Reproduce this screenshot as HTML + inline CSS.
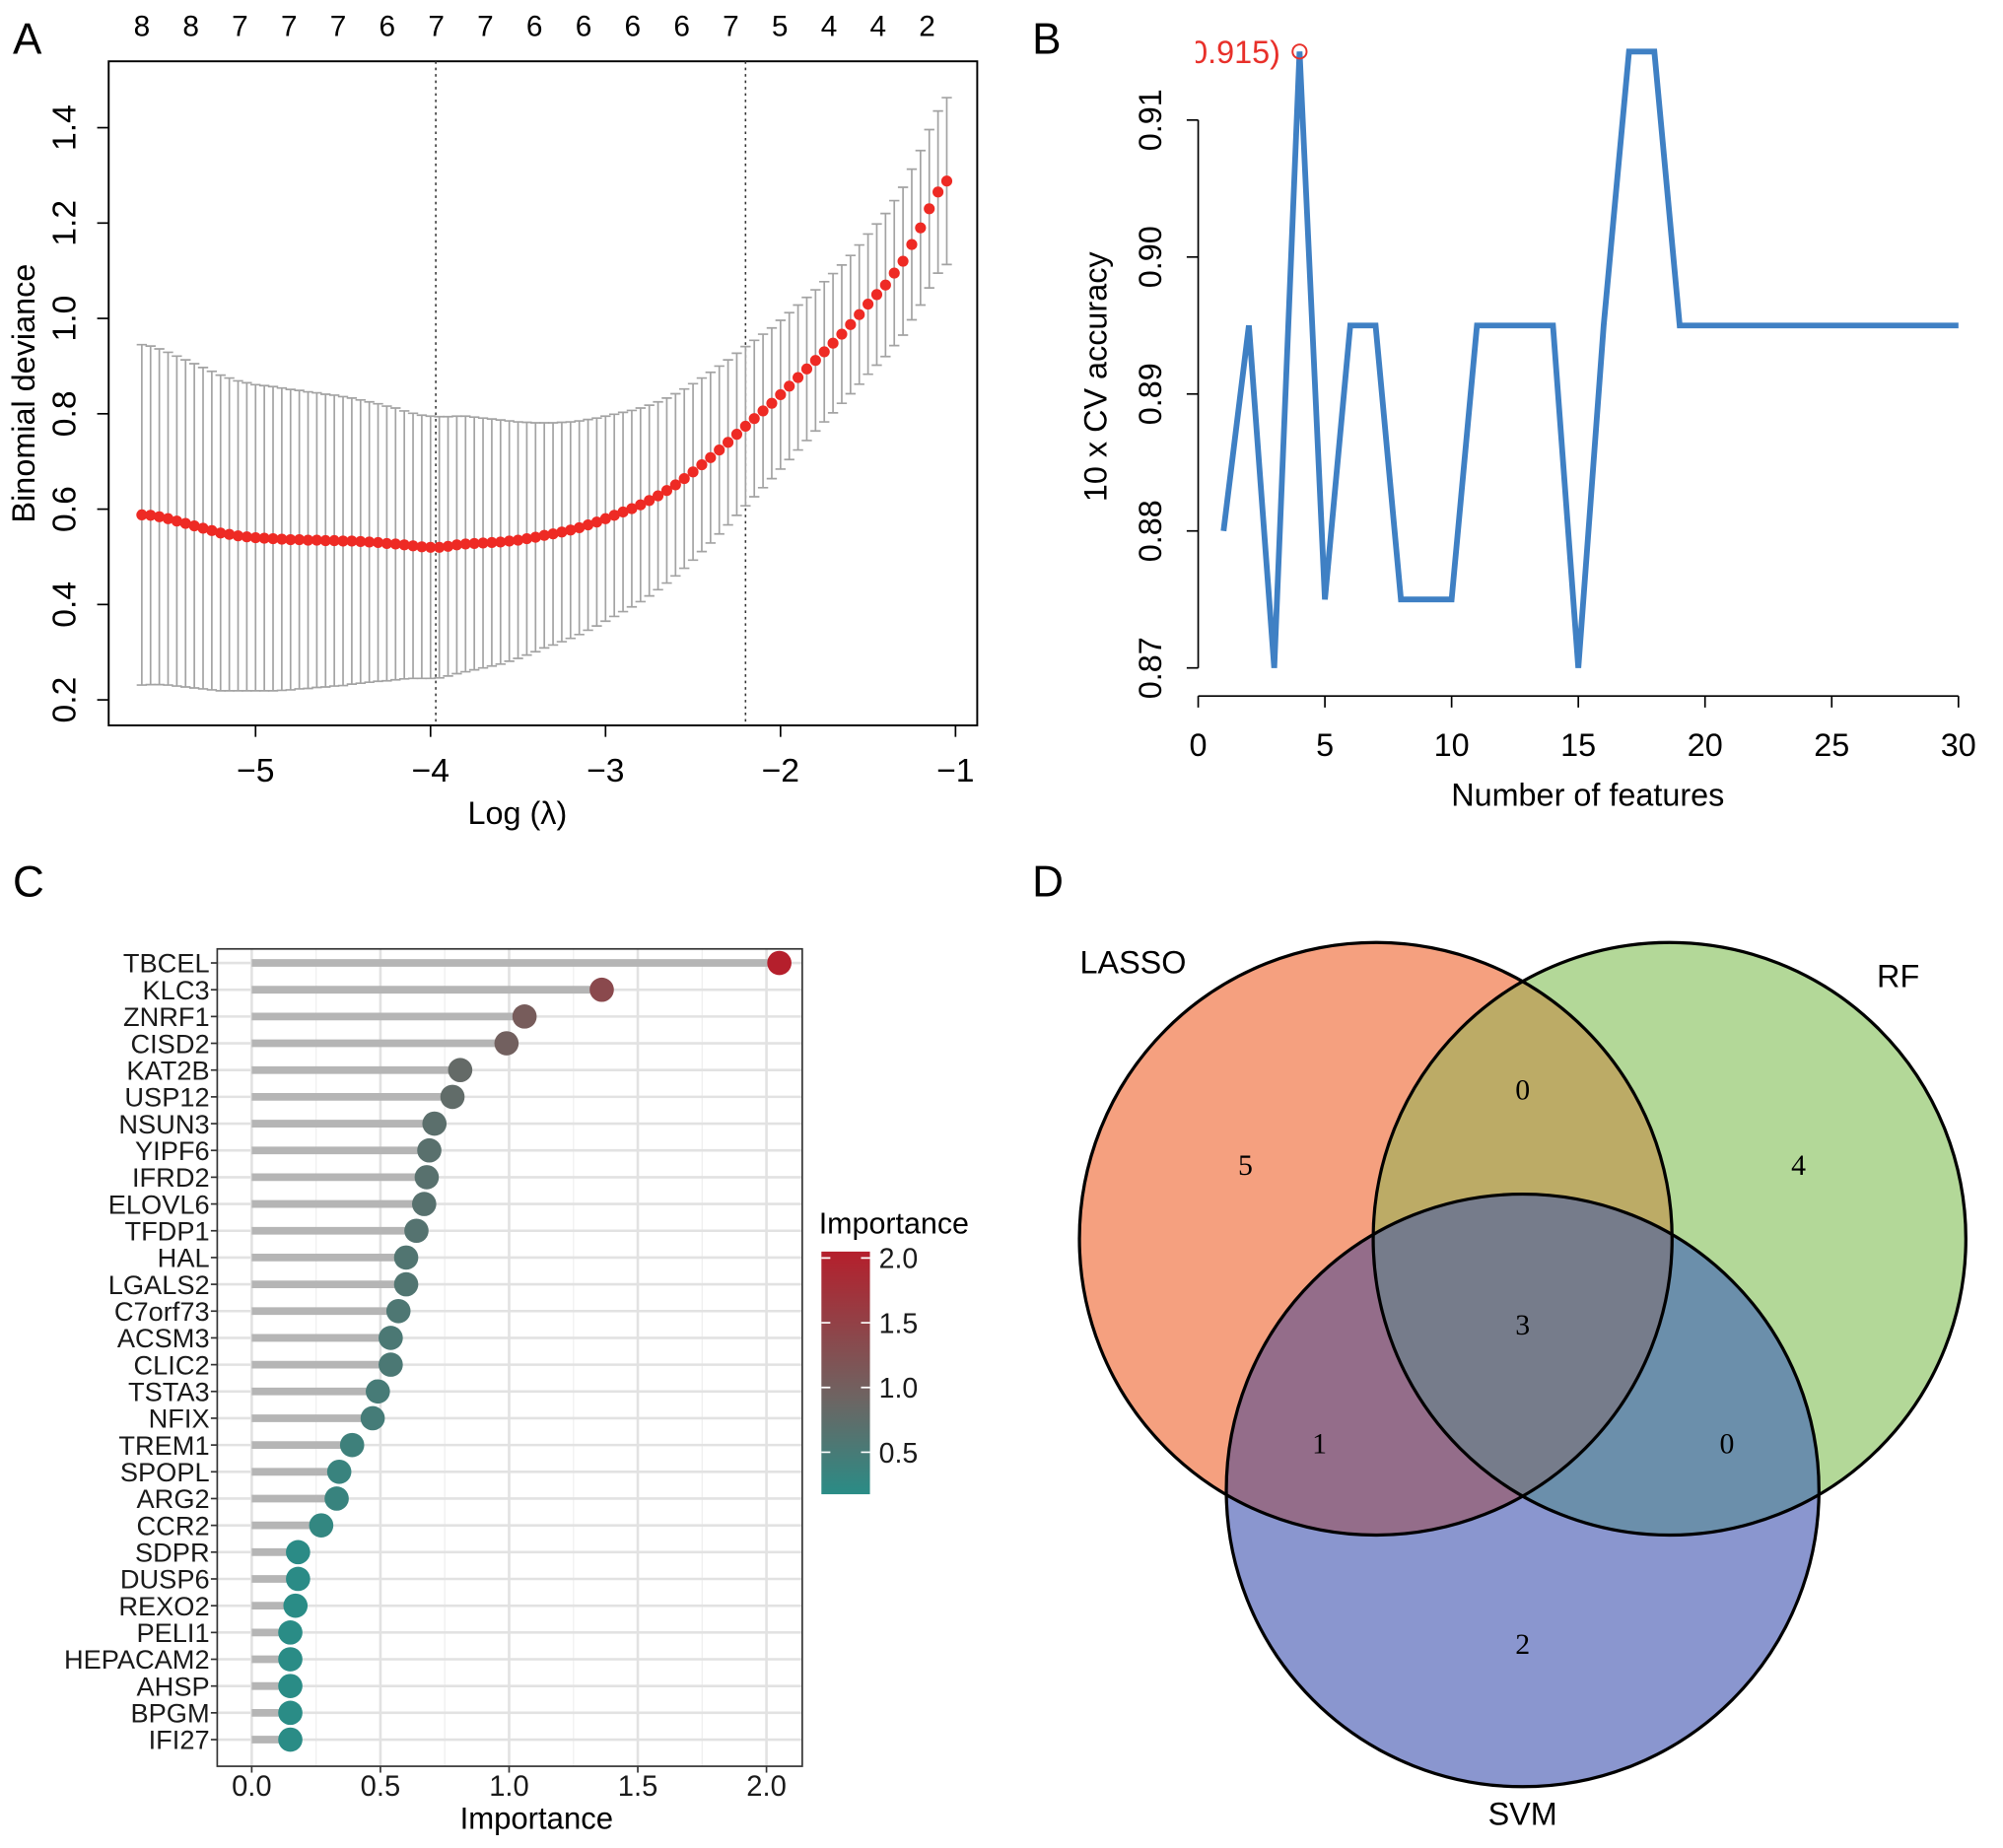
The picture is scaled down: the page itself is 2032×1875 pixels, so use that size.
<!DOCTYPE html>
<html><head><meta charset="utf-8"><title>Feature selection figure</title>
<style>
html,body{margin:0;padding:0;background:#fff;}
svg{display:block;font-family:"Liberation Sans",sans-serif;}
</style></head>
<body>
<svg id="fig" width="2032" height="1875" viewBox="0 0 1568 1447" xmlns="http://www.w3.org/2000/svg">
<defs>
<clipPath id="clipB"><rect x="936" y="20" width="640" height="540"/></clipPath>
<clipPath id="cL"><circle cx="1077" cy="970" r="232"/></clipPath>
<clipPath id="cR"><circle cx="1307" cy="970" r="232"/></clipPath>
<linearGradient id="impGrad" x1="0" y1="1" x2="0" y2="0">
<stop offset="0" stop-color="#2a8c86"/><stop offset="0.4" stop-color="#6e6462"/><stop offset="1" stop-color="#b51f2c"/>
</linearGradient>
</defs>
<g id="panelA"></g>
<g id="panelB"></g>
<g id="panelC"></g>
<g id="panelD"></g>
</svg>
<script>
// ---------- Panel A data ----------
const lassoLogLambdaStart = -5.65;
const lassoLogLambdaStep = 0.05;
const lassoMean = [.588,.587,.584,.580,.575,.570,.565,.560,.555,.550,.547,.544,.542,.540,.539,.538,.537,.536,.536,.535,.535,.534,.534,.533,.533,.532,.531,.530,.528,.527,.525,.523,.521,.520,.520,.522,.525,.527,.528,.529,.530,.531,.533,.535,.538,.541,.545,.548,.552,.556,.561,.567,.573,.580,.587,.594,.601,.609,.618,.628,.639,.651,.664,.678,.693,.708,.724,.740,.757,.774,.790,.806,.822,.840,.858,.876,.894,.912,.930,.948,.967,.987,1.008,1.03,1.05,1.07,1.095,1.12,1.155,1.19,1.23,1.265,1.288];
const lassoSE = [.357,.355,.352,.349,.346,.343,.340,.337,.334,.331,.328,.325,.323,.321,.320,.319,.317,.315,.313,.311,.309,.307,.305,.303,.300,.297,.294,.291,.288,.285,.281,.278,.276,.275,.274,.272,.270,.268,.265,.262,.259,.256,.252,.248,.244,.240,.236,.233,.230,.227,.224,.221,.218,.215,.212,.209,.206,.203,.200,.197,.194,.191,.188,.185,.182,.179,.176,.173,.170,.167,.164,.161,.158,.156,.154,.152,.150,.148,.147,.146,.145,.145,.146,.147,.148,.150,.152,.155,.158,.162,.166,.170,.175];
const lassoXTicks = [-5,-4,-3,-2,-1];
const lassoYTicks = [0.2,0.4,0.6,0.8,1.0,1.2,1.4];
const lassoTopCounts = [8,8,7,7,7,6,7,7,6,6,6,6,7,5,4,4,2];
const lassoTopStep = 0.2805;
const lassoVLines = [-3.97,-2.2];

// ---------- Panel B data ----------
const rfFeatures = [1,2,3,4,5,6,7,8,9,10,11,12,13,14,15,16,17,18,19,20,21,22,23,24,25,26,27,28,29,30];
const rfAccuracy = [.880,.895,.870,.915,.875,.895,.895,.875,.875,.875,.895,.895,.895,.895,.870,.895,.915,.915,.895,.895,.895,.895,.895,.895,.895,.895,.895,.895,.895,.895];
const rfXTicks = [0,5,10,15,20,25,30];
const rfYTicks = [0.87,0.88,0.89,0.90,0.91];
const rfBest = [4, 0.915];

// ---------- Panel C data ----------
const genes = ["TBCEL","KLC3","ZNRF1","CISD2","KAT2B","USP12","NSUN3","YIPF6","IFRD2","ELOVL6","TFDP1","HAL","LGALS2","C7orf73","ACSM3","CLIC2","TSTA3","NFIX","TREM1","SPOPL","ARG2","CCR2","SDPR","DUSP6","REXO2","PELI1","HEPACAM2","AHSP","BPGM","IFI27"];
const importance = [2.05,1.36,1.06,0.99,0.81,0.78,0.71,0.69,0.68,0.67,0.64,0.60,0.60,0.57,0.54,0.54,0.49,0.47,0.39,0.34,0.33,0.27,0.18,0.18,0.17,0.15,0.15,0.15,0.15,0.15];
const impXTicks = [0.0,0.5,1.0,1.5,2.0];
const impLegendTicks = [0.5,1.0,1.5,2.0];

// ---------- Panel D data ----------
const vennCounts = {lassoOnly:5, lassoRf:0, rfOnly:4, all:3, lassoSvm:1, rfSvm:0, svmOnly:2};

const NS = "http://www.w3.org/2000/svg";
function mk(parent, tag, attrs, text){
  const e = document.createElementNS(NS, tag);
  for (const k in attrs) e.setAttribute(k, attrs[k]);
  if (text !== undefined) e.textContent = text;
  parent.appendChild(e);
  return e;
}
function fmt(v,d){return v.toFixed(d);}
const minus = "\u2212";

// ================= Panel A =================
(function(){
  const g = document.getElementById('panelA');
  const L=85,R=765,T=48,B=568;
  const xs = v => 200 + (v + 5) * 137;
  const ys = v => 548 - (v - 0.2) / 0.2 * 74.67;
  let e;
  e = mk(g,'text',{x:10,y:42,'font-size':34},'A');
  
  
  e = mk(g,'rect',{x:L,y:T,width:R-L,height:B-T,fill:'none',stroke:'#000','stroke-width':1.5});
  
  
  lassoVLines.forEach(v=>{
    const l = mk(g,'line',{x1:xs(v),x2:xs(v),y1:T,y2:B,stroke:'#333','stroke-width':1.2,'stroke-dasharray':'2,3'});
    
    
  });
  const n = Math.min(lassoMean.length, lassoSE.length);
  for (let i=0;i<n;i++){
    const lx = lassoLogLambdaStart + i*lassoLogLambdaStep;
    const x = xs(lx), yu = ys(lassoMean[i]+lassoSE[i]), yl = ys(lassoMean[i]-lassoSE[i]);
    const eb = mk(g,'path',{d:`M${x},${yu}V${yl}M${x-4},${yu}H${x+4}M${x-4},${yl}H${x+4}`,stroke:'#a3a3a3','stroke-width':1.3,fill:'none'});
    
    
  }
  for (let i=0;i<n;i++){
    const lx = lassoLogLambdaStart + i*lassoLogLambdaStep;
    const c = mk(g,'circle',{cx:xs(lx),cy:ys(lassoMean[i]),r:4.3,fill:'#ee2a24'});
    
    
  }
  lassoXTicks.forEach(v=>{
    const t = mk(g,'line',{x1:xs(v),x2:xs(v),y1:B,y2:B+9,stroke:'#000','stroke-width':1.3});
    
    
    const lb = mk(g,'text',{x:xs(v),y:B+44,'font-size':26,'text-anchor':'middle'},minus+Math.abs(v));
    
    
  });
  lassoYTicks.forEach(v=>{
    const t = mk(g,'line',{x1:L-9,x2:L,y1:ys(v),y2:ys(v),stroke:'#000','stroke-width':1.3});
    
    
    const lb = mk(g,'text',{x:0,y:0,'font-size':26,'text-anchor':'middle',transform:`translate(59,${ys(v)}) rotate(-90)`},fmt(v,1));
    
    
  });
  lassoTopCounts.forEach((c,i)=>{
    const t = mk(g,'text',{x:xs(lassoLogLambdaStart + i*lassoTopStep),y:28,'font-size':23,'text-anchor':'middle'},String(c));
    
    
  });
  e = mk(g,'text',{x:405,y:645,'font-size':25,'text-anchor':'middle'},'Log (\u03bb)');
  
  
  e = mk(g,'text',{x:0,y:0,'font-size':25,'text-anchor':'middle',transform:'translate(27,308) rotate(-90)'},'Binomial deviance');
  
  
})();

// ================= Panel B =================
(function(){
  const g = document.getElementById('panelB');
  const xs = v => 938 + v/5*99.2;
  const ys = v => 523 - (v-0.87)/0.01*107.25;
  let e;
  e = mk(g,'text',{x:808,y:42,'font-size':34},'B');
  
  
  e = mk(g,'line',{x1:938,x2:938,y1:ys(0.87),y2:ys(0.91),stroke:'#000','stroke-width':1.3});
  
  
  e = mk(g,'line',{x1:xs(0),x2:xs(30),y1:545,y2:545,stroke:'#000','stroke-width':1.3});
  
  
  rfXTicks.forEach(v=>{
    const t = mk(g,'line',{x1:xs(v),x2:xs(v),y1:545,y2:554,stroke:'#000','stroke-width':1.3});
    
    
    const lb = mk(g,'text',{x:xs(v),y:592,'font-size':25,'text-anchor':'middle'},String(v));
    
    
  });
  rfYTicks.forEach(v=>{
    const t = mk(g,'line',{x1:929,x2:938,y1:ys(v),y2:ys(v),stroke:'#000','stroke-width':1.3});
    
    
    const lb = mk(g,'text',{x:0,y:0,'font-size':25,'text-anchor':'middle',transform:`translate(909,${ys(v)}) rotate(-90)`},fmt(v,2));
    
    
  });
  const pts = rfFeatures.map((f,i)=>`${xs(f)},${ys(rfAccuracy[i])}`).join(' ');
  e = mk(g,'polyline',{points:pts,fill:'none',stroke:'#3f80c4','stroke-width':4.5,'stroke-linejoin':'miter'});
  
  
  e = mk(g,'circle',{cx:xs(rfBest[0]),cy:ys(rfBest[1]),r:5.5,fill:'none',stroke:'#e8302a','stroke-width':1.5});
  
  
  const cg = mk(g,'g',{'clip-path':'url(#clipB)'});
  e = mk(cg,'text',{x:xs(rfBest[0])-15,y:ys(rfBest[1])+9,'font-size':25,'text-anchor':'end',fill:'#e8302a'},`(${rfBest[0]},${rfBest[1]})`);
  
  
  e = mk(g,'text',{x:1243,y:631,'font-size':25,'text-anchor':'middle'},'Number of features');
  
  
  e = mk(g,'text',{x:0,y:0,'font-size':25,'text-anchor':'middle',transform:'translate(866,295) rotate(-90)'},'10 x CV accuracy');
  
  
})();

// ================= Panel C =================
(function(){
  const g = document.getElementById('panelC');
  const L=170,R=628,T=743,B=1383;
  const xs = v => 197 + v/0.5*100.75;
  const ys = i => 754 + i*20.97;
  function colorFor(v){
    const lo=[42,140,134], mid=[110,100,98], hi=[181,31,44];
    const t = Math.max(0,Math.min(1,(v-0.17)/(2.05-0.17)));
    let a,b,u;
    if (t<0.4){a=lo;b=mid;u=t/0.4;} else {a=mid;b=hi;u=(t-0.4)/0.6;}
    return `rgb(${a.map((c,k)=>Math.round(c+(b[k]-c)*u)).join(',')})`;
  }
  let e;
  e = mk(g,'text',{x:10,y:702,'font-size':34},'C');
  
  
  for (let v=0.25; v<=2.1; v+=0.5){
    const m = mk(g,'line',{x1:xs(v),x2:xs(v),y1:T,y2:B,stroke:'#f0f0f0','stroke-width':1});
    
    
  }
  impXTicks.forEach(v=>{
    const m = mk(g,'line',{x1:xs(v),x2:xs(v),y1:T,y2:B,stroke:'#e2e2e2','stroke-width':2});
    
    
  });
  genes.forEach((gn,i)=>{
    const m = mk(g,'line',{x1:L,x2:R,y1:ys(i),y2:ys(i),stroke:'#e2e2e2','stroke-width':2});
    
    
  });
  e = mk(g,'rect',{x:L,y:T,width:R-L,height:B-T,fill:'none',stroke:'#333','stroke-width':1.3});
  
  
  genes.forEach((gn,i)=>{
    const s = mk(g,'line',{x1:xs(0),x2:xs(importance[i]),y1:ys(i),y2:ys(i),stroke:'#b5b5b5','stroke-width':6});
    
    
  });
  genes.forEach((gn,i)=>{
    const c = mk(g,'circle',{cx:xs(importance[i]),cy:ys(i),r:9.5,fill:colorFor(importance[i])});
    
    
    const t = mk(g,'line',{x1:L-5,x2:L,y1:ys(i),y2:ys(i),stroke:'#333','stroke-width':1.3});
    
    
    const lb = mk(g,'text',{x:L-6,y:ys(i)+7.5,'font-size':21,'text-anchor':'end',fill:'#1a1a1a'},gn);
    
    
  });
  impXTicks.forEach(v=>{
    const t = mk(g,'line',{x1:xs(v),x2:xs(v),y1:B,y2:B+5,stroke:'#333','stroke-width':1.3});
    
    
    const lb = mk(g,'text',{x:xs(v),y:B+23,'font-size':22.5,'text-anchor':'middle',fill:'#1a1a1a'},fmt(v,1));
    
    
  });
  e = mk(g,'text',{x:420,y:1432,'font-size':24,'text-anchor':'middle'},'Importance');
  
  
  // legend
  const ly = v => 985 + (2.0 - v)/0.5*50.7;
  e = mk(g,'text',{x:641,y:966,'font-size':23.5},'Importance');
  
  
  e = mk(g,'rect',{x:643,y:980,width:38,height:190,fill:'url(#impGrad)'});
  
  
  impLegendTicks.forEach(v=>{
    const t = mk(g,'path',{d:`M643,${ly(v)}h7M674,${ly(v)}h7`,stroke:'#fff','stroke-width':1.3});
    
    
    const lb = mk(g,'text',{x:688,y:ly(v)+8,'font-size':22,fill:'#1a1a1a'},fmt(v,1));
    
    
  });
})();

// ================= Panel D =================
(function(){
  const g = document.getElementById('panelD');
  let e;
  e = mk(g,'text',{x:808,y:702,'font-size':34},'D');
  
  
  e = mk(g,'circle',{cx:1077,cy:970,r:232,fill:'#f5a07f'});
  
  
  e = mk(g,'circle',{cx:1307,cy:970,r:232,fill:'#b3d898'});
  
  
  e = mk(g,'circle',{cx:1192,cy:1167,r:232,fill:'#8a96cf'});
  
  
  const g1 = mk(g,'g',{'clip-path':'url(#cL)'});
  e = mk(g1,'circle',{cx:1307,cy:970,r:232,fill:'#bcab66'});
  
  
  e = mk(g1,'circle',{cx:1192,cy:1167,r:232,fill:'#946d8a'});
  
  
  const g2 = mk(g,'g',{'clip-path':'url(#cR)'});
  e = mk(g2,'circle',{cx:1192,cy:1167,r:232,fill:'#6b8fab'});
  
  
  const g3 = mk(g2,'g',{'clip-path':'url(#cL)'});
  e = mk(g3,'circle',{cx:1192,cy:1167,r:232,fill:'#767c8b'});
  
  
  [[1077,970],[1307,970],[1192,1167]].forEach(c=>{
    const o = mk(g,'circle',{cx:c[0],cy:c[1],r:232,fill:'none',stroke:'#000','stroke-width':2.5});
    
    
  });
  const pos = {lassoOnly:[975,912],lassoRf:[1192,853],rfOnly:[1408,912],all:[1192,1037],lassoSvm:[1033,1130],rfSvm:[1352,1130],svmOnly:[1192,1287]};
  for (const k in vennCounts){
    const t = mk(g,'text',{x:pos[k][0],y:pos[k][1]+8,'font-size':23,'text-anchor':'middle','font-family':'Liberation Serif, serif'},String(vennCounts[k]));
    
    
  }
  e = mk(g,'text',{x:887,y:762,'font-size':25,'text-anchor':'middle'},'LASSO');
  
  
  e = mk(g,'text',{x:1486,y:773,'font-size':25,'text-anchor':'middle'},'RF');
  
  
  e = mk(g,'text',{x:1192,y:1429,'font-size':25,'text-anchor':'middle'},'SVM');
  
  
})();
</script>
</body></html>
